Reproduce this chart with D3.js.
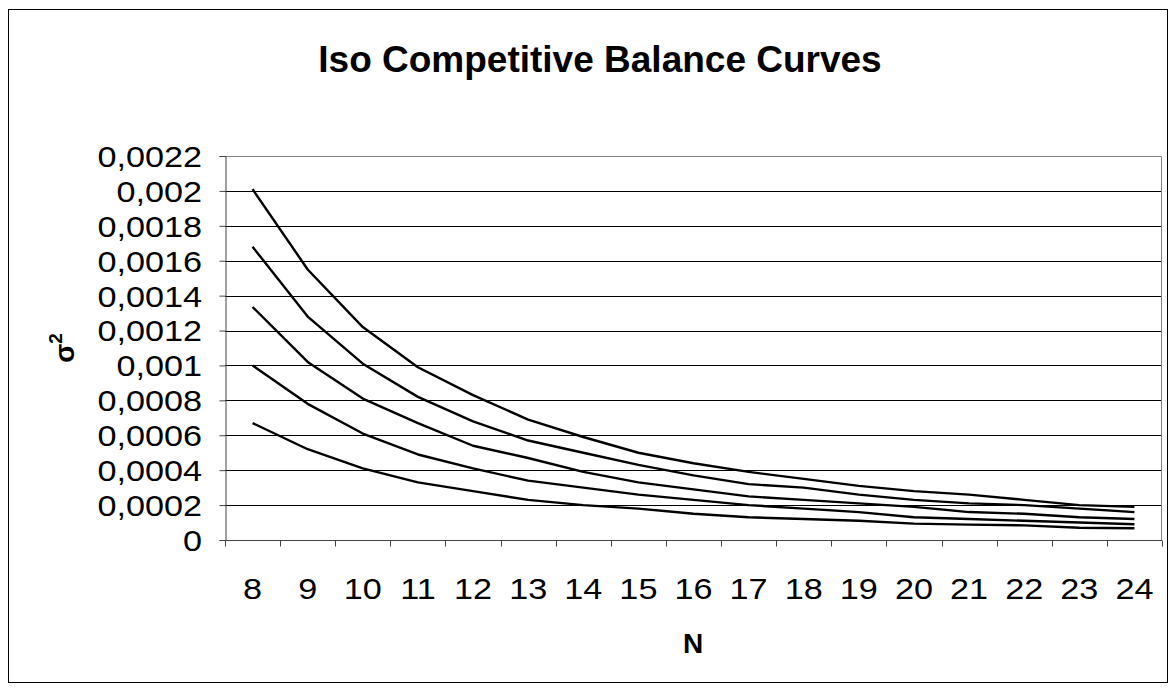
<!DOCTYPE html>
<html>
<head>
<meta charset="utf-8">
<script src="https://cdn.jsdelivr.net/npm/d3@7"></script>
<style>
  html, body { margin: 0; padding: 0; background: #fff; }
  svg { display: block; font-family: "Liberation Sans", Arial, sans-serif; }
</style>
</head>
<body>
<svg id="chart" width="1176" height="691"></svg>
<script>
// Team counts on the x axis
const teams = [8, 9, 10, 11, 12, 13, 14, 15, 16, 17, 18, 19, 20, 21, 22, 23, 24];

// Variance of winning percentage along each iso competitive balance curve
const curveA = [0.00201, 0.00155, 0.00122, 0.00099, 0.00083, 0.00069, 0.00059, 0.00050, 0.00044, 0.00039, 0.00035, 0.00031, 0.00028, 0.00026, 0.00023, 0.00020, 0.00019];
const curveB = [0.00168, 0.00128, 0.00101, 0.00082, 0.00068, 0.00057, 0.00050, 0.00043, 0.00037, 0.00032, 0.00030, 0.00026, 0.00023, 0.00021, 0.00020, 0.00018, 0.00016];
const curveC = [0.001335, 0.00102, 0.00081, 0.00067, 0.00054, 0.00047, 0.00039, 0.00033, 0.00029, 0.00025, 0.00023, 0.00021, 0.00019, 0.00016, 0.00015, 0.00013, 0.00012];
const curveD = [0.00100, 0.00078, 0.00061, 0.00049, 0.00041, 0.00034, 0.00030, 0.00026, 0.00023, 0.00020, 0.00018, 0.00016, 0.00013, 0.00012, 0.00011, 0.00010, 0.00009];
const curveE = [0.00067, 0.00052, 0.00041, 0.00033, 0.00028, 0.00023, 0.00020, 0.00018, 0.00015, 0.00013, 0.00012, 0.00011, 0.000094, 0.000088, 0.000084, 0.00007, 0.000067];

// Y axis ticks and their labels (decimal comma)
const yTickValues = [0, 0.0002, 0.0004, 0.0006, 0.0008, 0.001, 0.0012, 0.0014, 0.0016, 0.0018, 0.002, 0.0022];
const yTickLabels = ["0", "0,0002", "0,0004", "0,0006", "0,0008", "0,001", "0,0012", "0,0014", "0,0016", "0,0018", "0,002", "0,0022"];

const series = [curveA, curveB, curveC, curveD, curveE];

// Tick labels are drawn slightly widened
const labelStretch = 1.18;

const svg = d3.select("#chart");

// Outer chart frame
svg.append("rect")
  .attr("x", 8.5).attr("y", 9.5)
  .attr("width", 1159).attr("height", 673)
  .attr("fill", "#fff").attr("stroke", "#000").attr("stroke-width", 1);

const plot = { left: 225, right: 1162, top: 156, bottom: 540 };

const x = d3.scaleBand()
  .domain(teams)
  .range([plot.left, plot.right])
  .padding(0);

const y = d3.scaleLinear()
  .domain([0, 0.0022])
  .range([plot.bottom, plot.top]);

// Horizontal gridlines
svg.append("g")
  .selectAll("line")
  .data(yTickValues.filter(v => v > 0 && v < 0.0022))
  .join("line")
  .attr("x1", plot.left).attr("x2", plot.right)
  .attr("y1", d => Math.round(y(d)) + 0.5)
  .attr("y2", d => Math.round(y(d)) + 0.5)
  .attr("stroke", "#000").attr("stroke-width", 1);

// Plot-area border (top and right)
svg.append("path")
  .attr("d", `M${plot.left},${plot.top + 0.5}H${plot.right - 0.5}V${plot.bottom}`)
  .attr("fill", "none").attr("stroke", "#808080").attr("stroke-width", 1);

// Y axis
const yAxis = d3.axisLeft(y)
  .tickValues(yTickValues)
  .tickFormat((d, i) => yTickLabels[i])
  .tickSize(6)
  .tickPadding(17);

const gy = svg.append("g")
  .attr("transform", `translate(${plot.left + 0.5},0)`)
  .call(yAxis);
gy.select(".domain").attr("stroke", "#444");
gy.selectAll(".tick line").attr("stroke", "#444");
gy.selectAll(".tick text")
  .attr("font-size", 29)
  .attr("fill", "#000")
  .attr("font-family", "'Liberation Sans', Arial, sans-serif")
  .attr("x", -23.5 / labelStretch)
  .attr("transform", `scale(${labelStretch},1)`)
  .attr("dy", "0.36em");

// X axis: ticks sit at category boundaries, labels at category centres
const gx = svg.append("g")
  .attr("transform", `translate(0,${plot.bottom + 0.5})`);
gx.append("line")
  .attr("x1", plot.left).attr("x2", plot.right)
  .attr("stroke", "#444");
gx.selectAll("line.tick")
  .data(teams.concat([null]))
  .join("line")
  .attr("class", "tick")
  .attr("x1", (d, i) => Math.round(plot.left + i * x.bandwidth()) + 0.5)
  .attr("x2", (d, i) => Math.round(plot.left + i * x.bandwidth()) + 0.5)
  .attr("y1", 0).attr("y2", 6)
  .attr("stroke", "#444");
gx.selectAll("text")
  .data(teams)
  .join("text")
  .attr("transform", d => `translate(${x(d) + x.bandwidth() / 2},58) scale(${labelStretch},1)`)
  .attr("text-anchor", "middle")
  .attr("font-size", 29)
  .attr("fill", "#000")
  .text(d => d);

// Curves
const line = d3.line()
  .x((d, i) => x(teams[i]) + x.bandwidth() / 2)
  .y(d => y(d));

svg.append("g")
  .selectAll("path")
  .data(series)
  .join("path")
  .attr("d", line)
  .attr("fill", "none")
  .attr("stroke", "#000")
  .attr("stroke-width", 2.4)
  .attr("stroke-linejoin", "round");

// Title
svg.append("text")
  .attr("x", 600).attr("y", 72)
  .attr("text-anchor", "middle")
  .attr("font-size", 37)
  .attr("font-weight", "bold")
  .text("Iso Competitive Balance Curves");

// Axis titles
svg.append("text")
  .attr("x", 693).attr("y", 653)
  .attr("text-anchor", "middle")
  .attr("font-size", 28)
  .attr("font-weight", "bold")
  .text("N");

const yTitle = svg.append("text")
  .attr("transform", "translate(74,348) rotate(-90)")
  .attr("text-anchor", "middle")
  .attr("font-size", 28)
  .attr("font-weight", "bold");
yTitle.append("tspan").text("σ");
yTitle.append("tspan").attr("font-size", 19).attr("dy", -12).text("2");
</script>
</body>
</html>
